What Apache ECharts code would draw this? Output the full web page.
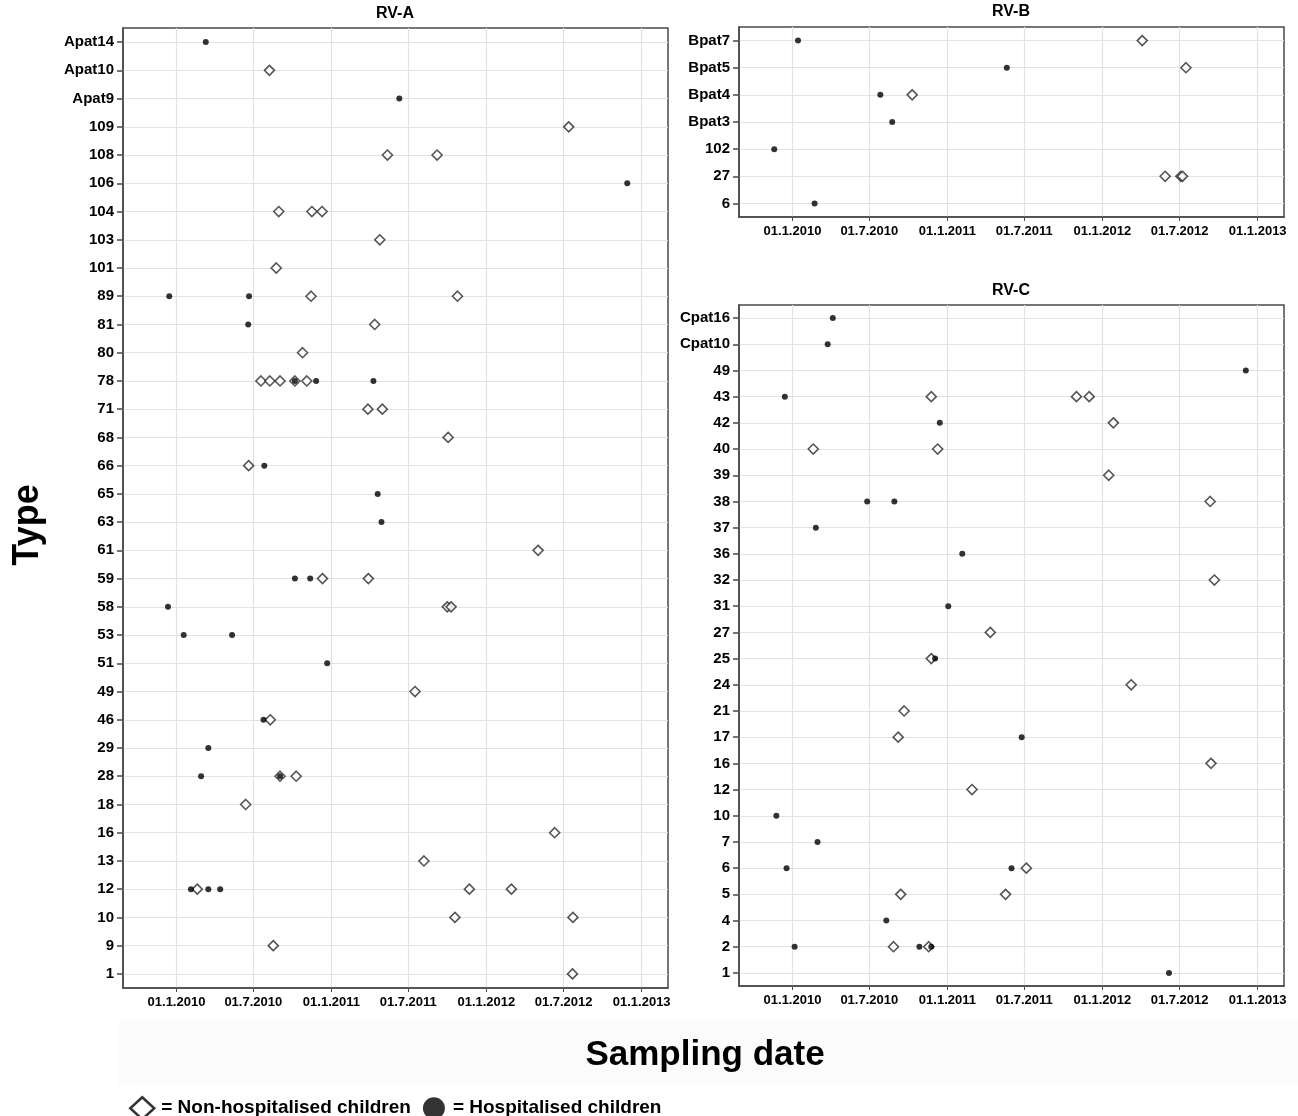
<!DOCTYPE html>
<html>
<head>
<meta charset="utf-8">
<script src="https://cdn.jsdelivr.net/npm/echarts@6/dist/echarts.min.js"></script>
<style>
  html, body { margin: 0; padding: 0; background: #fff; }
  #chart { width: 1298px; height: 1116px; }
</style>
</head>
<body>
<div id="chart"></div>
<script>
// y categories, top to bottom
var typesA = ['Apat14', 'Apat10', 'Apat9', '109', '108', '106', '104', '103', '101', '89', '81', '80',
  '78', '71', '68', '66', '65', '63', '61', '59', '58', '53', '51', '49', '46', '29', '28', '18',
  '16', '13', '12', '10', '9', '1'];
var typesB = ['Bpat7', 'Bpat5', 'Bpat4', 'Bpat3', '102', '27', '6'];
var typesC = ['Cpat16', 'Cpat10', '49', '43', '42', '40', '39', '38', '37', '36', '32', '31', '27',
  '25', '24', '21', '17', '16', '12', '10', '7', '6', '5', '4', '2', '1'];

// x tick dates (labelled as dd.M.yyyy)
var tickDates = ['2010-01-01', '2010-07-01', '2011-01-01', '2011-07-01', '2012-01-01', '2012-07-01', '2013-01-01'];

// [sampling date, type]
var nonHospA = [
  ['2010-08-08', 'Apat10'], ['2012-07-13', '109'], ['2011-05-13', '108'], ['2011-09-07', '108'],
  ['2010-08-30', '104'], ['2010-11-16', '104'], ['2010-12-10', '104'], ['2011-04-25', '103'],
  ['2010-08-24', '101'], ['2010-11-14', '89'], ['2011-10-25', '89'], ['2011-04-13', '81'],
  ['2010-10-25', '80'], ['2010-07-19', '78'], ['2010-08-09', '78'], ['2010-09-02', '78'],
  ['2010-10-07', '78'], ['2010-11-04', '78'], ['2011-03-28', '71'], ['2011-05-01', '71'],
  ['2011-10-03', '68'], ['2010-06-20', '66'], ['2012-05-02', '61'], ['2010-12-11', '59'],
  ['2011-03-29', '59'], ['2011-10-01', '58'], ['2011-10-10', '58'], ['2011-07-17', '49'],
  ['2010-08-10', '46'], ['2010-09-02', '28'], ['2010-10-10', '28'], ['2010-06-13', '18'],
  ['2012-06-10', '16'], ['2011-08-07', '13'], ['2010-02-19', '12'], ['2011-11-22', '12'],
  ['2012-02-29', '12'], ['2011-10-19', '10'], ['2012-07-23', '10'], ['2010-08-17', '9'],
  ['2012-07-22', '1']
];
var hospA = [
  ['2010-03-11', 'Apat14'], ['2011-06-10', 'Apat9'], ['2012-11-28', '106'], ['2009-12-15', '89'],
  ['2010-06-21', '89'], ['2010-06-19', '81'], ['2010-10-07', '78'], ['2010-11-26', '78'],
  ['2011-04-10', '78'], ['2010-07-27', '66'], ['2011-04-20', '65'], ['2011-04-29', '63'],
  ['2010-10-07', '59'], ['2010-11-12', '59'], ['2009-12-12', '58'], ['2010-01-18', '53'],
  ['2010-05-12', '53'], ['2010-12-22', '51'], ['2010-07-25', '46'], ['2010-03-17', '29'],
  ['2010-02-28', '28'], ['2010-09-02', '28'], ['2010-02-04', '12'], ['2010-03-17', '12'],
  ['2010-04-14', '12']
];
var nonHospB = [
  ['2012-04-04', 'Bpat7'], ['2012-07-16', 'Bpat5'], ['2010-10-10', 'Bpat4'],
  ['2012-05-28', '27'], ['2012-07-04', '27'], ['2012-07-08', '27']
];
var hospB = [
  ['2010-01-14', 'Bpat7'], ['2011-05-21', 'Bpat5'], ['2010-07-27', 'Bpat4'],
  ['2010-08-24', 'Bpat3'], ['2009-11-19', '102'], ['2010-02-22', '6']
];
var nonHospC = [
  ['2010-11-24', '43'], ['2011-11-01', '43'], ['2011-12-01', '43'], ['2012-01-27', '42'],
  ['2010-02-19', '40'], ['2010-12-09', '40'], ['2012-01-16', '39'], ['2012-09-11', '38'],
  ['2012-09-21', '32'], ['2011-04-12', '27'], ['2010-11-24', '25'], ['2012-03-09', '24'],
  ['2010-09-21', '21'], ['2010-09-07', '17'], ['2012-09-13', '16'], ['2011-02-28', '12'],
  ['2011-07-06', '6'], ['2010-09-13', '5'], ['2011-05-18', '5'], ['2010-08-27', '2'],
  ['2010-11-18', '2']
];
var hospC = [
  ['2010-04-06', 'Cpat16'], ['2010-03-25', 'Cpat10'], ['2012-12-04', '49'], ['2009-12-14', '43'],
  ['2010-12-14', '42'], ['2010-06-26', '38'], ['2010-08-29', '38'], ['2010-02-25', '37'],
  ['2011-02-05', '36'], ['2011-01-03', '31'], ['2010-12-03', '25'], ['2011-06-25', '17'],
  ['2009-11-24', '10'], ['2010-03-01', '7'], ['2009-12-18', '6'], ['2011-06-01', '6'],
  ['2010-08-10', '4'], ['2010-01-06', '2'], ['2010-10-27', '2'], ['2010-11-24', '2'],
  ['2012-06-06', '1']
];

var xMin = '2009-08-28';
var xMax = '2013-03-04';
var FONT = '"Liberation Sans", Arial, sans-serif';

var myChart = echarts.init(document.getElementById('chart'));

// dates -> timestamps for a plain value axis (half-year ticks placed by customValues)
function ms(s) {
  return +echarts.time.parse(s);
}
var tickValues = tickDates.map(ms);

function toPoints(list) {
  return list.map(function (p) {
    return [ms(p[0]), p[1]];
  });
}

function fmtDate(val) {
  var d = new Date(val);
  var dd = d.getDate();
  return (dd < 10 ? '0' + dd : dd) + '.' + (d.getMonth() + 1) + '.' + d.getFullYear();
}

function dateAxis(gi) {
  return {
    type: 'value',
    gridIndex: gi,
    min: ms(xMin),
    max: ms(xMax),
    scale: true,
    axisLine: { show: true, lineStyle: { color: '#4a4a4a', width: 1.5 } },
    axisTick: { show: true, length: 4, customValues: tickValues, lineStyle: { color: '#4a4a4a' } },
    axisLabel: {
      customValues: tickValues,
      formatter: fmtDate,
      hideOverlap: false,
      color: '#000',
      fontWeight: 'bold',
      fontSize: 13,
      fontFamily: FONT,
      margin: 8
    },
    splitLine: { show: true, lineStyle: { color: '#e2e2e2', width: 1.2 } }
  };
}

function typeAxis(gi, types) {
  return {
    type: 'category',
    gridIndex: gi,
    data: types,
    inverse: true,
    boundaryGap: true,
    axisLine: { show: true, lineStyle: { color: '#4a4a4a', width: 1.5 } },
    axisTick: { show: true, alignWithLabel: true, length: 6, lineStyle: { color: '#4a4a4a', width: 1.5 } },
    axisLabel: {
      interval: 0,
      color: '#000',
      fontWeight: 'bold',
      fontSize: 15,
      fontFamily: FONT,
      margin: 9
    },
    splitLine: { show: true, interval: 0, alignWithLabel: true, lineStyle: { color: '#e2e2e2', width: 1.2 } }
  };
}

function diamonds(gi, data) {
  return {
    name: 'Non-hospitalised children',
    type: 'scatter',
    xAxisIndex: gi,
    yAxisIndex: gi,
    symbol: 'diamond',
    symbolSize: 10,
    itemStyle: { color: '#fff', borderColor: '#2a2a2a', borderWidth: 1.6 },
    data: toPoints(data)
  };
}

function dots(gi, data) {
  return {
    name: 'Hospitalised children',
    type: 'scatter',
    xAxisIndex: gi,
    yAxisIndex: gi,
    symbol: 'circle',
    symbolSize: 6,
    itemStyle: { color: '#000' },
    z: 3,
    data: toPoints(data)
  };
}

var boxStyle = { show: true, borderColor: '#4a4a4a', borderWidth: 1.5, backgroundColor: '#fff' };

myChart.setOption({
  backgroundColor: '#fff',
  animation: false,
  textStyle: { fontFamily: FONT },
  grid: [
    Object.assign({ left: 123, top: 28, width: 545, height: 960 }, boxStyle),
    Object.assign({ left: 739, top: 27, width: 545, height: 190 }, boxStyle),
    Object.assign({ left: 739, top: 305, width: 545, height: 681 }, boxStyle)
  ],
  xAxis: [dateAxis(0), dateAxis(1), dateAxis(2)],
  yAxis: [typeAxis(0, typesA), typeAxis(1, typesB), typeAxis(2, typesC)],
  legend: {
    left: 124,
    top: 1091,
    itemWidth: 24,
    itemHeight: 22,
    itemGap: 12,
    formatter: '= {name}',
    textStyle: { fontSize: 19, fontWeight: 'bold', color: '#000', fontFamily: FONT, padding: [0, 0, 0, 2] },
    data: [
      { name: 'Non-hospitalised children', icon: 'diamond', itemStyle: { color: '#fff', borderColor: '#000', borderWidth: 2.5 } },
      { name: 'Hospitalised children', icon: 'circle', itemStyle: { color: '#000' } }
    ]
  },
  graphic: [
    { type: 'rect', z: -10, shape: { x: 118, y: 1021, width: 1180, height: 64 }, style: { fill: '#fbfbfb' } },
    { type: 'text', x: 395, y: 6, style: { text: 'RV-A', textAlign: 'center', font: 'bold 16px ' + FONT, fill: '#000' } },
    { type: 'text', x: 1011, y: 4, style: { text: 'RV-B', textAlign: 'center', font: 'bold 16px ' + FONT, fill: '#000' } },
    { type: 'text', x: 1011, y: 283, style: { text: 'RV-C', textAlign: 'center', font: 'bold 16px ' + FONT, fill: '#000' } },
    { type: 'text', x: 28, y: 525, rotation: Math.PI / 2,
      style: { text: 'Type', textAlign: 'center', textVerticalAlign: 'middle', font: 'bold 36px ' + FONT, fill: '#000' } },
    { type: 'text', x: 705, y: 1055,
      style: { text: 'Sampling date', textAlign: 'center', textVerticalAlign: 'middle', font: 'bold 35px ' + FONT, fill: '#000' } }
  ],
  series: [
    diamonds(0, nonHospA), dots(0, hospA),
    diamonds(1, nonHospB), dots(1, hospB),
    diamonds(2, nonHospC), dots(2, hospC)
  ]
});
</script>
</body>
</html>
